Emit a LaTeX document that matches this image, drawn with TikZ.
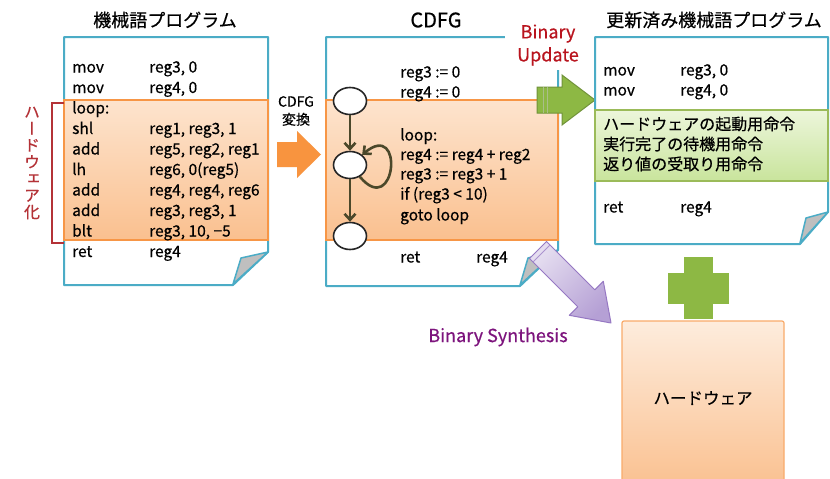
\documentclass[tikz,border=0pt]{standalone}
\usepackage{fontspec}
\setmainfont[FakeBold=0.5]{Noto Sans CJK JP}
\newfontfamily\vjp[RawFeature=+vert,FakeBold=0.5]{Noto Sans CJK JP}
\usetikzlibrary{arrows.meta,positioning,shapes.geometric}
\definecolor{docline}{RGB}{75,172,198}
\definecolor{bandline}{RGB}{247,150,70}
\definecolor{bandtop}{RGB}{253,228,206}
\definecolor{bandbot}{RGB}{250,192,143}
\definecolor{greenline}{RGB}{155,187,89}
\definecolor{greentop}{RGB}{236,246,219}
\definecolor{greenbot}{RGB}{201,228,156}
\definecolor{arrowgreen}{RGB}{141,184,68}
\definecolor{arrowgreendark}{RGB}{113,147,58}
\definecolor{hwred}{RGB}{180,50,55}
\definecolor{updred}{RGB}{185,20,30}
\definecolor{synpurple}{RGB}{125,20,125}
\definecolor{edgeolive}{RGB}{75,72,42}
\definecolor{purpleline}{RGB}{150,120,195}

\begin{document}
\begin{tikzpicture}[x=1pt,y=-1pt,
  code text/.style={anchor=base west,inner sep=0pt,font=\fontsize{15.5}{19}\selectfont},
  title text/.style={font=\fontsize{18}{21}\selectfont},
  doc line/.style={draw=docline,line width=2pt,fill=white,line join=round},
  flap/.style={draw=docline,line width=1.5pt,fill=black!25,line join=round},
  orange band/.style={draw=bandline,line width=1.2pt,top color=bandtop,bottom color=bandbot},
  green band/.style={draw=greenline,line width=1.2pt,top color=greentop,bottom color=greenbot},
  cf node/.style={ellipse,draw=black!85,line width=1.6pt,fill=white,minimum width=33pt,minimum height=27pt,inner sep=0pt},
  cf edge/.style={draw=edgeolive,line width=2.6pt,-{Straight Barb[length=6pt,width=11pt]}}]

  \useasboundingbox (0,0) rectangle (830,479);
  \fill[white] (0,0) rectangle (830,479);

  % titles
  \node[title text] (tprog) at (165,20) {機械語プログラム};
  \node[font=\fontsize{20}{22}\selectfont] (tcdfg) at (436,20) {CDFG};
  \node[title text] (tnew) at (714,20) {更新済み機械語プログラム};

  % machine code
  \draw[doc line] (64,37) -- (268,37) -- (268,252) -- (233,285) -- (64,285) -- cycle;
  \draw[orange band] (64,100) rectangle (268,240);
  \draw[flap] (268,252) -- (241,258) -- (233,284) -- cycle;
  \foreach \op/\opnd [count=\i] in {mov/{reg3, 0},mov/{reg4, 0},loop:/{},shl/{reg1, reg3, 1},
      add/{reg5, reg2, reg1},lh/{reg6, 0(reg5)},add/{reg4, reg4, reg6},add/{reg3, reg3, 1},
      blt/{reg3, 10, −5},ret/{reg4}}{
    \node[code text] (lop\i) at (72,52+20.5*\i) {\op};
    \node[code text] (larg\i) at (149,52+20.5*\i) {\opnd};
  }
  \draw[hwred,line width=1.3pt] (64,103) -- (52,103) -- (52,243) -- (64,243);
  \node[hwred,align=center,font=\vjp\fontsize{16}{16.7}\selectfont] (hwlabel) at (32,163)
    {ハ\\ー\\ド\\ウ\\ェ\\ア\\化};

  % CDFG conversion
  \fill[bandline!90!orange] (277,142) -- (297,142) -- (297,131) -- (321,154.5) -- (297,178) -- (297,167) -- (277,167) -- cycle;
  \node[align=center,font=\fontsize{14}{18}\selectfont] (conv) at (296,111) {CDFG\\変換};

  % CDFG
  \draw[doc line] (326,37) -- (558,37) -- (558,250) -- (520,286) -- (326,286) -- cycle;
  \draw[orange band] (326,100) rectangle (558,240);
  \draw[flap] (558,250) -- (528,258) -- (520,285) -- cycle;
  \node[code text] (s1) at (400,77.5) {reg3 := 0};
  \node[code text] (s2) at (400,97.5) {reg4 := 0};
  \node[code text] (s3) at (400,140.5) {loop:};
  \node[code text] (s4) at (400,160) {reg4 := reg4 + reg2};
  \node[code text] (s5) at (400,179.5) {reg3 := reg3 + 1};
  \node[code text] (s6) at (400,199.5) {if (reg3 < 10)};
  \node[code text] (s7) at (400,220.5) {goto loop};
  \node[code text] (s8) at (400,262.5) {ret};
  \node[code text] (s9) at (476,262.5) {reg4};

  \node[cf node] (c1) at (350,101) {};
  \node[cf node] (c2) at (350,165) {};
  \node[cf node] (c3) at (350,236) {};
  \path[cf edge] (c1) edge (c2)
    (c2) edge (c3)
    (c2) edge[out=-50,in=40,looseness=6.5] (c2);

  % binary update
  \node[updred,fill=white,align=center,minimum width=86pt,minimum height=50pt,inner sep=0pt,
    font=\fontsize{18}{23}\selectfont] (upd) at (548,45) {Binary\\Update};
  \draw[arrowgreendark,line width=1pt,fill=arrowgreen] (537,87) -- (562,87) -- (562,75) -- (595,100) -- (562,125) -- (562,113) -- (537,113) -- cycle;
  \draw[arrowgreendark!60,line width=0.8pt] (543,87) -- (543,113) (547,87) -- (547,113);

  % updated code
  \draw[doc line] (595,37) -- (828,37) -- (828,212) -- (800,244) -- (595,244) -- cycle;
  \draw[green band] (595,110) rectangle (828,181);
  \draw[flap] (828,212) -- (806,218) -- (800,243) -- cycle;
  \node[code text] (rop1) at (603,75.5) {mov};
  \node[code text] (rarg1) at (680,75.5) {reg3, 0};
  \node[code text] (rop2) at (603,95.5) {mov};
  \node[code text] (rarg2) at (680,95.5) {reg4, 0};
  \node[code text,font=\fontsize{16}{19}\selectfont] (g1) at (603,130) {ハードウェアの起動用命令};
  \node[code text,font=\fontsize{16}{19}\selectfont] (g2) at (603,150) {実行完了の待機用命令};
  \node[code text,font=\fontsize{16}{19}\selectfont] (g3) at (603,170) {返り値の受取り用命令};
  \node[code text] (rop3) at (603,212.5) {ret};
  \node[code text] (rarg3) at (680,212.5) {reg4};

  % binary synthesis
  \draw[purpleline,line width=1pt,left color=purpleline!25,right color=purpleline!70,shading angle=45,line join=round]
    (546.5,241.5) -- (594.8,289.8) -- (603.3,281.3) -- (611,323) -- (569.3,315.3) -- (577.8,306.8) -- (529.5,258.5) -- cycle;
  \draw[purpleline!80,line width=1pt] (550,245) -- (533,262);
  \node[synpurple,font=\fontsize{18}{21}\selectfont] (syn) at (498,337) {Binary Synthesis};

  % hardware
  \draw[white,line width=2.5pt,fill=arrowgreen] (683,256) -- (714,256) -- (714,272) -- (730,272) -- (730,305) -- (714,305)
    -- (714,320) -- (683,320) -- (683,305) -- (667,305) -- (667,272) -- (683,272) -- cycle;
  \draw[bandline!80,line width=1.2pt,top color=bandtop!70,bottom color=bandbot,rounded corners=2pt]
    (622,490) -- (622,321) -- (784,321) -- (784,490);
  \node[font=\fontsize{16.5}{20}\selectfont] (hw) at (703,398) {ハードウェア};
\end{tikzpicture}
\end{document}
